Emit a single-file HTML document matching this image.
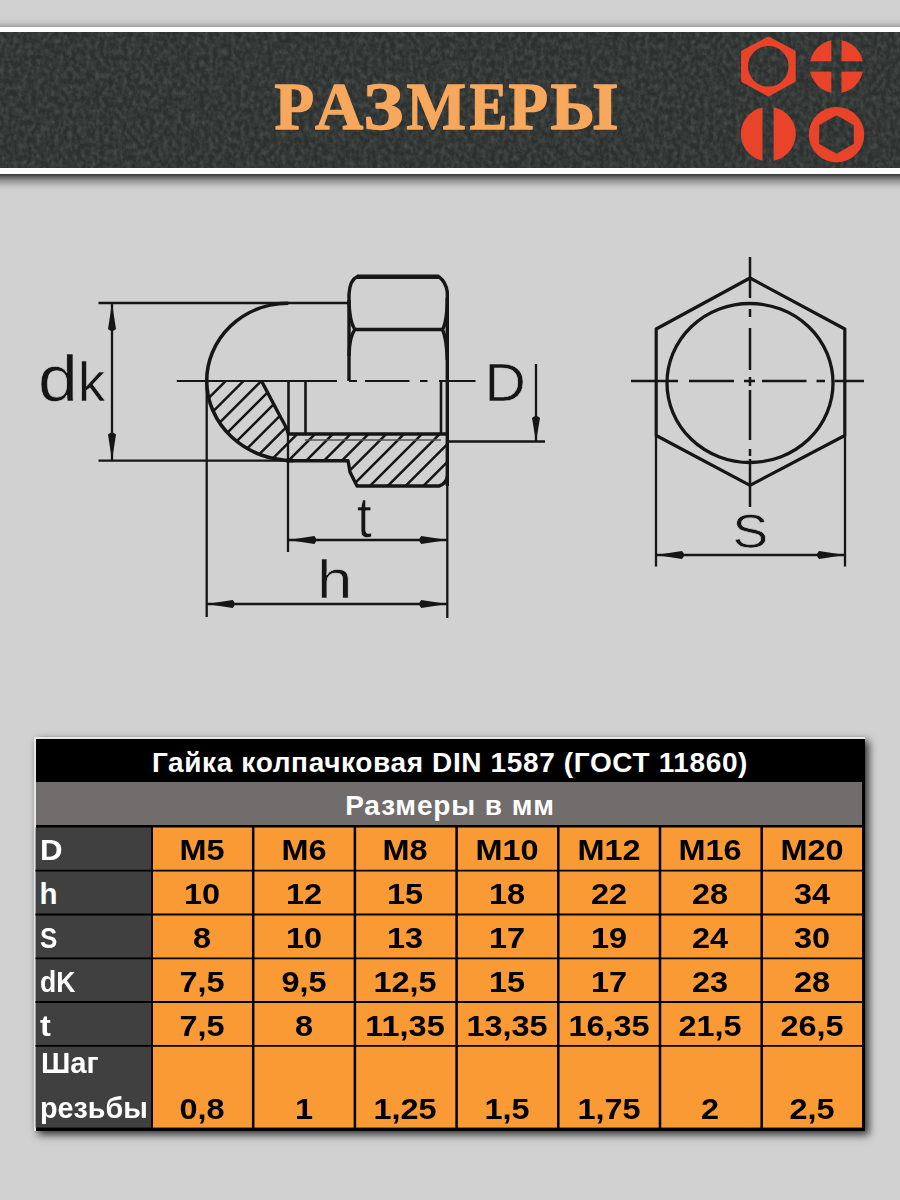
<!DOCTYPE html>
<html><head><meta charset="utf-8">
<style>
html,body{margin:0;padding:0;}
body{width:900px;height:1200px;overflow:hidden;background:#d1d1d1;position:relative;font-family:"Liberation Sans",sans-serif;}
.abs{position:absolute;}
svg{position:absolute;left:0;top:0;}
#band{left:0;top:26.7px;width:900px;height:147.5px;background:#fdfdfd;}
#shT{left:0;top:18.3px;width:900px;height:8.4px;background:linear-gradient(to bottom,rgba(0,0,0,0),rgba(0,0,0,.06) 50%,rgba(0,0,0,.22));}
#shB{left:0;top:174.2px;width:900px;height:16px;background:linear-gradient(to bottom,rgba(0,0,0,.75),rgba(0,0,0,.5) 20%,rgba(0,0,0,.3) 40%,rgba(0,0,0,.15) 62%,rgba(0,0,0,.05) 82%,rgba(0,0,0,0));}
#dark{left:0;top:32px;width:900px;height:136.4px;background:#3b3f3e;overflow:hidden;}
#title{left:-4px;top:70px;width:900px;text-align:center;font-family:"Liberation Serif",serif;font-weight:bold;color:#f8a75c;font-size:71px;line-height:71px;white-space:nowrap;}
#tbl{left:35.5px;top:738.6px;width:829.5px;height:392px;background:#000;box-shadow:3px 3px 8px 1px rgba(0,0,0,.72),0 -1px 6px rgba(0,0,0,.12);}
#tblw{left:34px;top:737px;width:831px;height:1.6px;background:#e6e6e6;}
#tblw2{left:34px;top:737px;width:1.6px;height:394px;background:#e6e6e6;}
.t{position:absolute;font-weight:bold;white-space:nowrap;line-height:1;}
.c{position:absolute;background:#f89a36;}
.g{position:absolute;background:#404040;}
</style></head>
<body>
<div id="shT" class="abs"></div><div id="shB" class="abs"></div><div id="band" class="abs"></div>
<div id="dark" class="abs"><svg width="900" height="136" viewBox="0 0 900 136">
<filter id="nz" x="0" y="0" width="100%" height="100%" filterUnits="userSpaceOnUse">
<feTurbulence type="fractalNoise" baseFrequency="0.22 0.17" numOctaves="4" seed="3" result="t"/>
<feColorMatrix in="t" type="matrix" values="0 0 0 0 0.29  0 0 0 0 0.32  0 0 0 0 0.31  0.5 0 0 0 -0.17" result="c"/>
</filter>
<rect width="900" height="136" fill="#2c3130"/>
<rect width="900" height="136" filter="url(#nz)"/>
</svg></div>
<svg width="900" height="200" viewBox="0 0 900 200"><g fill="#f8a85c" stroke="#f8a85c" stroke-width="1.4" stroke-linejoin="round" font-family="Liberation Serif, serif" font-weight="bold" font-size="68"><text transform="translate(274.60,129.2) scale(0.9528,1)">Р</text><text transform="translate(315.00,129.2) scale(0.9832,1)">А</text><text transform="translate(363.29,129.2) scale(1.1150,1)">З</text><text transform="translate(406.61,129.2) scale(0.9277,1)">М</text><text transform="translate(469.65,129.2) scale(0.8308,1)">Е</text><text transform="translate(508.60,129.2) scale(0.9528,1)">Р</text><text transform="translate(550.58,129.2) scale(1.0013,1)">Ы</text></g></svg>
<svg width="900" height="200" viewBox="0 0 900 200">
<g fill="#e9432a" fill-rule="evenodd">
<path stroke="#e9432a" stroke-width="3" stroke-linejoin="round" d="M768.4 38 L794.2 51.8 L794.2 80.8 L768.4 95 L742.6 80.8 L742.6 51.8 Z M790.1 66.3 A21.8 21.8 0 1 0 746.5 66.3 A21.8 21.8 0 1 0 790.1 66.3 Z"/>
<mask id="mk1"><rect width="900" height="200" fill="#fff"/><rect x="831.3" y="30" width="10.2" height="70" fill="#000"/><rect x="800" y="61.3" width="70" height="10.3" fill="#000"/></mask>
<circle cx="836.5" cy="66.5" r="26.8" mask="url(#mk1)"/>
<mask id="mk2"><rect width="900" height="200" fill="#fff"/><rect x="762.5" y="100" width="11.2" height="70" fill="#000"/></mask>
<ellipse cx="768.3" cy="134" rx="27.5" ry="27.2" mask="url(#mk2)"/>
<path d="M862.7 134.7 A26.2 26.2 0 1 0 810.3 134.7 A26.2 26.2 0 1 0 862.7 134.7 Z M836.5 113.5 L855.3 124.2 L855.3 144.8 L836.5 155.5 L817.7 144.8 L817.7 124.2 Z" stroke="#e9432a" stroke-width="3" stroke-linejoin="round"/>
</g>
</svg>
<svg width="900" height="700" viewBox="0 0 900 700" style="left:0;top:0">
<defs>
<clipPath id="secA"><path d="M206.7 381 L261.5 381 L281 418 Q287 428 288.3 434 L447 434 L447 478 L439 486 L357 486 L348 461 L293 460.6 A86.3 79.6 0 0 1 206.7 381 Z"/></clipPath>
</defs>
<g fill="none" stroke="#161616" stroke-linecap="butt" stroke-linejoin="round">
<!-- hatching -->
<g clip-path="url(#secA)" stroke-width="2.5">
<path d="M-605.3 500.0 L-355.3 250.0 M-587.5 500.0 L-337.5 250.0 M-569.7 500.0 L-319.7 250.0 M-551.9 500.0 L-301.9 250.0 M-534.1 500.0 L-284.1 250.0 M-516.3 500.0 L-266.3 250.0 M-498.5 500.0 L-248.5 250.0 M-480.7 500.0 L-230.7 250.0 M-462.9 500.0 L-212.9 250.0 M-445.1 500.0 L-195.1 250.0 M-427.3 500.0 L-177.3 250.0 M-409.5 500.0 L-159.5 250.0 M-391.7 500.0 L-141.7 250.0 M-373.9 500.0 L-123.9 250.0 M-356.1 500.0 L-106.1 250.0 M-338.3 500.0 L-88.3 250.0 M-320.5 500.0 L-70.5 250.0 M-302.7 500.0 L-52.7 250.0 M-284.9 500.0 L-34.9 250.0 M-267.1 500.0 L-17.1 250.0 M-249.3 500.0 L0.7 250.0 M-231.5 500.0 L18.5 250.0 M-213.7 500.0 L36.3 250.0 M-195.9 500.0 L54.1 250.0 M-178.1 500.0 L71.9 250.0 M-160.3 500.0 L89.7 250.0 M-142.5 500.0 L107.5 250.0 M-124.7 500.0 L125.3 250.0 M-106.9 500.0 L143.1 250.0 M-89.1 500.0 L160.9 250.0 M-71.3 500.0 L178.7 250.0 M-53.5 500.0 L196.5 250.0 M-35.7 500.0 L214.3 250.0 M-17.9 500.0 L232.1 250.0 M-0.1 500.0 L249.9 250.0 M17.7 500.0 L267.7 250.0 M35.5 500.0 L285.5 250.0 M53.3 500.0 L303.3 250.0 M71.1 500.0 L321.1 250.0 M88.9 500.0 L338.9 250.0 M106.7 500.0 L356.7 250.0 M124.5 500.0 L374.5 250.0 M142.3 500.0 L392.3 250.0 M160.1 500.0 L410.1 250.0 M177.9 500.0 L427.9 250.0 M195.7 500.0 L445.7 250.0 M213.5 500.0 L463.5 250.0 M231.3 500.0 L481.3 250.0 M249.1 500.0 L499.1 250.0 M266.9 500.0 L516.9 250.0 M284.7 500.0 L534.7 250.0 M302.5 500.0 L552.5 250.0 M320.3 500.0 L570.3 250.0 M338.1 500.0 L588.1 250.0 M355.9 500.0 L605.9 250.0 M373.7 500.0 L623.7 250.0 M391.5 500.0 L641.5 250.0 M409.3 500.0 L659.3 250.0 M427.1 500.0 L677.1 250.0 M444.9 500.0 L694.9 250.0 M462.7 500.0 L712.7 250.0 M480.5 500.0 L730.5 250.0 M498.3 500.0 L748.3 250.0 M516.1 500.0 L766.1 250.0 M533.9 500.0 L783.9 250.0 M551.7 500.0 L801.7 250.0 M569.5 500.0 L819.5 250.0 M587.3 500.0 L837.3 250.0 M605.1 500.0 L855.1 250.0 M622.9 500.0 L872.9 250.0 M640.7 500.0 L890.7 250.0 M658.5 500.0 L908.5 250.0 M676.3 500.0 L926.3 250.0 M694.1 500.0 L944.1 250.0 M711.9 500.0 L961.9 250.0 M729.7 500.0 L979.7 250.0 M747.5 500.0 L997.5 250.0 M765.3 500.0 L1015.3 250.0 M783.1 500.0 L1033.1 250.0 M800.9 500.0 L1050.9 250.0 M818.7 500.0 L1068.7 250.0 M836.5 500.0 L1086.5 250.0 M854.3 500.0 L1104.3 250.0 M872.1 500.0 L1122.1 250.0 M889.9 500.0 L1139.9 250.0 M907.7 500.0 L1157.7 250.0 M925.5 500.0 L1175.5 250.0 M943.3 500.0 L1193.3 250.0 M961.1 500.0 L1211.1 250.0 M978.9 500.0 L1228.9 250.0 M996.7 500.0 L1246.7 250.0 M1014.5 500.0 L1264.5 250.0 M1032.3 500.0 L1282.3 250.0 M1050.1 500.0 L1300.1 250.0 M1067.9 500.0 L1317.9 250.0 M1085.7 500.0 L1335.7 250.0 M1103.5 500.0 L1353.5 250.0 M1121.3 500.0 L1371.3 250.0 M1139.1 500.0 L1389.1 250.0 M1156.9 500.0 L1406.9 250.0"/>
</g>
<!-- extension lines -->
<path stroke-width="2.3" d="M98.5 303 H349 M98.5 460.6 H288 M206.7 381 V617 M288 434 V552 M447.3 486 V618 M447.3 441.5 H545 M112 303 V461 M536 364 V442 M288 540 H447.5 M206.7 604 H447.3"/>
<!-- centerline -->
<path stroke-width="2.2" d="M176.8 381 H337 M349 381 H357 M365 381 H409.5 M420 381 H427.5 M439 381 H475.5"/>
<!-- outline -->
<path stroke-width="3.6" d="M288.3 303.3 A81.6 77.7 0 0 0 206.7 381 A86.3 79.6 0 0 0 293 460.6"/>
<path stroke-width="3.4" d="M261.5 381 L281 418 Q287 428 288.3 434 H447.3"/>
<path stroke-width="2.6" d="M288.5 381 V434 M305.5 381 V434 M441 381 V434"/>
<path stroke-width="3.4" d="M286 460.8 H348 Q349 466 350 472 L357 486 H439 Q446 484 447.5 476"/>
<path stroke-width="1.6" stroke="#555" d="M305 440 H441"/>
<path stroke-width="3.4" d="M349 381 V294 Q350 280 357 276.8 H439 Q446 282 447.3 292 V486"/>
<path stroke-width="4.6" d="M357 276.8 H439"/>
<path stroke-width="3.4" d="M355 329.5 H443 M349 300 Q349.5 322 355 329.5 Q349.5 336 349 356 M447.3 298 Q447 322 442.5 329.5 Q446.5 338 447.3 360"/>
<!-- right view -->
<path stroke-width="3.2" d="M750 278 L844.8 329 L844.8 435.5 L750 485.3 L656.2 435.5 L656.2 329 Z"/>
<ellipse stroke-width="3.3" cx="750" cy="383" rx="83" ry="79.5"/>
<path stroke-width="2.5" d="M631 381 H678 M689 381 H734 M744 381 H755 M762 381 H806.5 M816.5 381 H825 M834.5 381 H864"/>
<path stroke-width="2.5" d="M750 257 V298 M750 309 V317 M750 328 V370 M750 377 V386 M750 390 V440 M750 449 V456 M750 459 V507"/>
<path stroke-width="2.3" d="M656 435.5 V566.5 M845 435.5 V566.5 M656 555 H845"/>
</g>
<!-- arrows -->
<g fill="#161616">
<path d="M112.0 303.0 L108.0 329.0 Q112.0 333.0 116.0 329.0 Z M112.0 460.6 L116.0 434.6 Q112.0 430.6 108.0 434.6 Z M536.0 442.0 L540.0 418.0 Q536.0 414.0 532.0 418.0 Z M288.3 540.0 L314.3 544.0 Q318.3 540.0 314.3 536.0 Z M447.3 540.0 L421.3 536.0 Q417.3 540.0 421.3 544.0 Z M206.7 604.0 L232.7 608.0 Q236.7 604.0 232.7 600.0 Z M447.3 604.0 L421.3 600.0 Q417.3 604.0 421.3 608.0 Z M656.0 555.0 L682.0 559.0 Q686.0 555.0 682.0 551.0 Z M845.0 555.0 L819.0 551.0 Q815.0 555.0 819.0 559.0 Z"/>
</g>
<g fill="#161616" stroke="#d1d1d1" stroke-width="0.6" font-family="Liberation Sans, sans-serif">
<text transform="translate(38,401) scale(1.12,1)" font-size="64">d</text>
<text transform="translate(78,401) scale(0.85,0.875)" font-size="64">k</text>
<text transform="translate(484.5,400.7) scale(1.08,1)" font-size="53">D</text>
<text transform="translate(357,536.5) scale(0.93,1)" font-size="57">t</text>
<text transform="translate(317,597.5) scale(1.2,1)" font-size="53">h</text>
<text transform="translate(732.5,547.7) scale(1.09,1)" font-size="49">S</text>
</g>
</svg>

<div id="tbl" class="abs"></div><div id="tblw" class="abs"></div><div id="tblw2" class="abs"></div>
<div class="t" style="left:35px;top:748.5px;width:830px;text-align:center;color:#fff;font-size:28px;letter-spacing:0.63px;">Гайка колпачковая DIN 1587 (ГОСТ 11860)</div>
<div class="abs" style="left:35.5px;top:782px;width:826.8px;height:42.5px;background:#716d6c;"></div>
<div class="t" style="left:35px;top:791.5px;width:830px;text-align:center;color:#fff;font-size:28px;letter-spacing:0.9px;">Размеры в мм</div>
<svg width="900" height="1200" viewBox="0 0 900 1200" style="left:0;top:0"><rect x="35.6" y="827.5" width="116" height="300.1" fill="#404040"/><rect x="152" y="827.5" width="710" height="300.1" fill="#f99a35"/><path d="M35.5 870.70 H862.3 M35.5 914.50 H862.3 M35.5 958.30 H862.3 M35.5 1002.00 H862.3 M35.5 1045.80 H862.3" stroke="#000" stroke-width="1.8" fill="none"/><path d="M253.20 827 V1128 M354.90 827 V1128 M456.60 827 V1128 M558.30 827 V1128 M660.00 827 V1128 M761.70 827 V1128" stroke="#000" stroke-width="2.5" fill="none"/><path d="M152.15 827 V1128" stroke="#000" stroke-width="1.6" fill="none"/></svg>
<div class="t" style="left:39.5px;top:835.0px;color:#fff;font-size:29.5px;transform:scaleX(1.06);transform-origin:0 0;">D</div>
<div class="t" style="left:152.2px;top:835.0px;width:100px;text-align:center;color:#000;font-size:29.5px;transform:scaleX(1.1);">M5</div>
<div class="t" style="left:253.5px;top:835.0px;width:100px;text-align:center;color:#000;font-size:29.5px;transform:scaleX(1.1);">M6</div>
<div class="t" style="left:355.2px;top:835.0px;width:100px;text-align:center;color:#000;font-size:29.5px;transform:scaleX(1.1);">M8</div>
<div class="t" style="left:456.9px;top:835.0px;width:100px;text-align:center;color:#000;font-size:29.5px;transform:scaleX(1.1);">M10</div>
<div class="t" style="left:558.6px;top:835.0px;width:100px;text-align:center;color:#000;font-size:29.5px;transform:scaleX(1.1);">M12</div>
<div class="t" style="left:660.4px;top:835.0px;width:100px;text-align:center;color:#000;font-size:29.5px;transform:scaleX(1.1);">M16</div>
<div class="t" style="left:762.0px;top:835.0px;width:100px;text-align:center;color:#000;font-size:29.5px;transform:scaleX(1.1);">M20</div>
<div class="t" style="left:39.5px;top:879.2px;color:#fff;font-size:29.5px;transform:scaleX(1.0);transform-origin:0 0;">h</div>
<div class="t" style="left:152.2px;top:879.2px;width:100px;text-align:center;color:#000;font-size:29.5px;transform:scaleX(1.1);">10</div>
<div class="t" style="left:253.5px;top:879.2px;width:100px;text-align:center;color:#000;font-size:29.5px;transform:scaleX(1.1);">12</div>
<div class="t" style="left:355.2px;top:879.2px;width:100px;text-align:center;color:#000;font-size:29.5px;transform:scaleX(1.1);">15</div>
<div class="t" style="left:456.9px;top:879.2px;width:100px;text-align:center;color:#000;font-size:29.5px;transform:scaleX(1.1);">18</div>
<div class="t" style="left:558.6px;top:879.2px;width:100px;text-align:center;color:#000;font-size:29.5px;transform:scaleX(1.1);">22</div>
<div class="t" style="left:660.4px;top:879.2px;width:100px;text-align:center;color:#000;font-size:29.5px;transform:scaleX(1.1);">28</div>
<div class="t" style="left:762.0px;top:879.2px;width:100px;text-align:center;color:#000;font-size:29.5px;transform:scaleX(1.1);">34</div>
<div class="t" style="left:39.5px;top:923.2px;color:#fff;font-size:29.5px;transform:scaleX(0.88);transform-origin:0 0;">S</div>
<div class="t" style="left:152.2px;top:923.2px;width:100px;text-align:center;color:#000;font-size:29.5px;transform:scaleX(1.1);">8</div>
<div class="t" style="left:253.5px;top:923.2px;width:100px;text-align:center;color:#000;font-size:29.5px;transform:scaleX(1.1);">10</div>
<div class="t" style="left:355.2px;top:923.2px;width:100px;text-align:center;color:#000;font-size:29.5px;transform:scaleX(1.1);">13</div>
<div class="t" style="left:456.9px;top:923.2px;width:100px;text-align:center;color:#000;font-size:29.5px;transform:scaleX(1.1);">17</div>
<div class="t" style="left:558.6px;top:923.2px;width:100px;text-align:center;color:#000;font-size:29.5px;transform:scaleX(1.1);">19</div>
<div class="t" style="left:660.4px;top:923.2px;width:100px;text-align:center;color:#000;font-size:29.5px;transform:scaleX(1.1);">24</div>
<div class="t" style="left:762.0px;top:923.2px;width:100px;text-align:center;color:#000;font-size:29.5px;transform:scaleX(1.1);">30</div>
<div class="t" style="left:39.5px;top:967.2px;color:#fff;font-size:29.5px;transform:scaleX(0.9);transform-origin:0 0;">dK</div>
<div class="t" style="left:152.2px;top:967.2px;width:100px;text-align:center;color:#000;font-size:29.5px;transform:scaleX(1.1);">7,5</div>
<div class="t" style="left:253.5px;top:967.2px;width:100px;text-align:center;color:#000;font-size:29.5px;transform:scaleX(1.1);">9,5</div>
<div class="t" style="left:355.2px;top:967.2px;width:100px;text-align:center;color:#000;font-size:29.5px;transform:scaleX(1.1);">12,5</div>
<div class="t" style="left:456.9px;top:967.2px;width:100px;text-align:center;color:#000;font-size:29.5px;transform:scaleX(1.1);">15</div>
<div class="t" style="left:558.6px;top:967.2px;width:100px;text-align:center;color:#000;font-size:29.5px;transform:scaleX(1.1);">17</div>
<div class="t" style="left:660.4px;top:967.2px;width:100px;text-align:center;color:#000;font-size:29.5px;transform:scaleX(1.1);">23</div>
<div class="t" style="left:762.0px;top:967.2px;width:100px;text-align:center;color:#000;font-size:29.5px;transform:scaleX(1.1);">28</div>
<div class="t" style="left:39.5px;top:1011.2px;color:#fff;font-size:29.5px;transform:scaleX(1.1);transform-origin:0 0;">t</div>
<div class="t" style="left:152.2px;top:1011.2px;width:100px;text-align:center;color:#000;font-size:29.5px;transform:scaleX(1.1);">7,5</div>
<div class="t" style="left:253.5px;top:1011.2px;width:100px;text-align:center;color:#000;font-size:29.5px;transform:scaleX(1.1);">8</div>
<div class="t" style="left:355.2px;top:1011.2px;width:100px;text-align:center;color:#000;font-size:29.5px;transform:scaleX(1.1);">11,35</div>
<div class="t" style="left:456.9px;top:1011.2px;width:100px;text-align:center;color:#000;font-size:29.5px;transform:scaleX(1.1);">13,35</div>
<div class="t" style="left:558.6px;top:1011.2px;width:100px;text-align:center;color:#000;font-size:29.5px;transform:scaleX(1.1);">16,35</div>
<div class="t" style="left:660.4px;top:1011.2px;width:100px;text-align:center;color:#000;font-size:29.5px;transform:scaleX(1.1);">21,5</div>
<div class="t" style="left:762.0px;top:1011.2px;width:100px;text-align:center;color:#000;font-size:29.5px;transform:scaleX(1.1);">26,5</div>
<div class="t" style="left:41px;top:1048.0px;color:#fff;font-size:29.5px;transform:scaleX(0.99);transform-origin:0 0;">Шаг</div>
<div class="t" style="left:40px;top:1093.0px;color:#fff;font-size:29.5px;transform:scaleX(0.975);transform-origin:0 0;">резьбы</div>
<div class="t" style="left:152.2px;top:1093.5px;width:100px;text-align:center;color:#000;font-size:29.5px;transform:scaleX(1.1);">0,8</div>
<div class="t" style="left:253.5px;top:1093.5px;width:100px;text-align:center;color:#000;font-size:29.5px;transform:scaleX(1.1);">1</div>
<div class="t" style="left:355.2px;top:1093.5px;width:100px;text-align:center;color:#000;font-size:29.5px;transform:scaleX(1.1);">1,25</div>
<div class="t" style="left:456.9px;top:1093.5px;width:100px;text-align:center;color:#000;font-size:29.5px;transform:scaleX(1.1);">1,5</div>
<div class="t" style="left:558.6px;top:1093.5px;width:100px;text-align:center;color:#000;font-size:29.5px;transform:scaleX(1.1);">1,75</div>
<div class="t" style="left:660.4px;top:1093.5px;width:100px;text-align:center;color:#000;font-size:29.5px;transform:scaleX(1.1);">2</div>
<div class="t" style="left:762.0px;top:1093.5px;width:100px;text-align:center;color:#000;font-size:29.5px;transform:scaleX(1.1);">2,5</div>
</body></html>
